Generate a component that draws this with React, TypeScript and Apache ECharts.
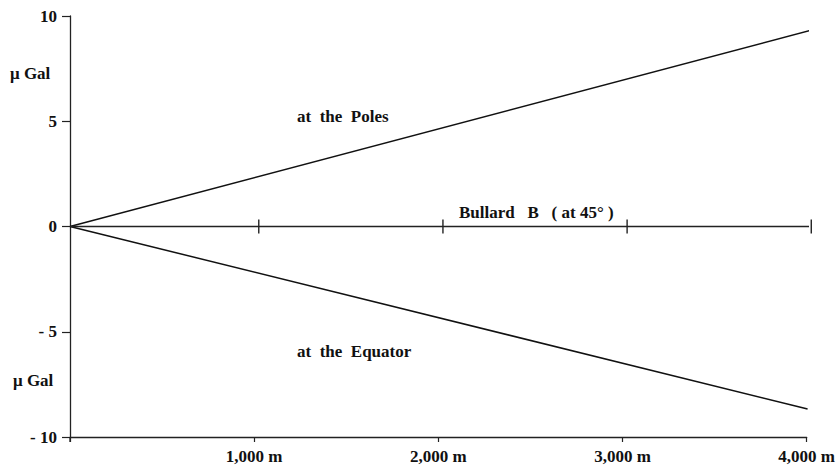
import React, { useEffect, useRef } from "react";
import * as echarts from "echarts";

const xTicks = [0, 1000, 2000, 3000, 4000];
const yTicks = [-10, -5, 0, 5, 10];
const polesLine: [number, number][] = [[0, 0], [4049, 9.38]];
const equatorLine: [number, number][] = [[0, 0], [4005, -8.67]];
const bullardX = [0, 1025, 2025, 3025, 4025];
const bullardY = [0, 0, 0, 0, 0];
const unitLabel = "μ Gal";

const FONT = '"Liberation Serif", "Times New Roman", serif';

export default function App() {
  const ref = useRef<HTMLDivElement>(null);
  useEffect(() => {
    document.body.style.margin = "0";
    if (!ref.current) return;
    const chart = echarts.init(ref.current, null, { renderer: "svg" });
    const bullardData = bullardX.map((x, i) => ({
      value: [x, bullardY[i]],
      symbol: i === 0 ? "none" : "rect",
    }));
    chart.setOption({
      animation: false,
      backgroundColor: "#fff",
      grid: { left: 70, right: 29, top: 16, bottom: 28 },
      xAxis: {
        type: "value",
        min: xTicks[0],
        max: xTicks[xTicks.length - 1],
        interval: 1000,
        axisLine: { onZero: false, lineStyle: { color: "#222", width: 1.3 } },
        axisTick: { show: true, length: 5, lineStyle: { color: "#222", width: 1.2 } },
        splitLine: { show: false },
        axisLabel: {
          margin: 11,
          color: "#111",
          fontFamily: FONT,
          fontWeight: "bold",
          fontSize: 17,
          formatter: (v: number) => (v === 0 ? "" : v.toLocaleString("en-US") + " m"),
        },
      },
      yAxis: {
        type: "value",
        min: yTicks[0],
        max: yTicks[yTicks.length - 1],
        interval: 5,
        axisLine: { show: true, onZero: false, lineStyle: { color: "#222", width: 1.3 } },
        axisTick: { show: true, length: 8, lineStyle: { color: "#222", width: 1.2 } },
        splitLine: { show: false },
        axisLabel: {
          margin: 13,
          color: "#111",
          fontFamily: FONT,
          fontWeight: "bold",
          fontSize: 17,
          formatter: (v: number) => (v < 0 ? "- " + Math.abs(v) : String(v)),
        },
      },
      series: [
        {
          type: "line",
          name: "at the Poles",
          data: polesLine,
          symbol: "none",
          clip: false,
          lineStyle: { color: "#111", width: 1.5 },
        },
        {
          type: "line",
          name: "at the Equator",
          data: equatorLine,
          symbol: "none",
          clip: false,
          lineStyle: { color: "#111", width: 1.5 },
        },
        {
          type: "line",
          name: "Bullard B",
          data: bullardData,
          symbolSize: [1.4, 14],
          showSymbol: true,
          clip: false,
          itemStyle: { color: "#222" },
          lineStyle: { color: "#222", width: 1.5 },
        },
      ],
      graphic: [
        {
          type: "text",
          style: { text: "at  the  Poles", x: 297, y: 116, verticalAlign: "middle", font: `bold 17px ${FONT}`, fill: "#111" },
        },
        {
          type: "text",
          style: { text: "at  the  Equator", x: 297, y: 351, verticalAlign: "middle", font: `bold 17px ${FONT}`, fill: "#111" },
        },
        {
          type: "text",
          style: { text: "Bullard   B   ( at 45° )", x: 459, y: 212, verticalAlign: "middle", font: `bold 17px ${FONT}`, fill: "#111" },
        },
        {
          type: "text",
          style: { text: unitLabel, x: 10, y: 73, verticalAlign: "middle", font: `bold 17px ${FONT}`, fill: "#111" },
        },
        {
          type: "text",
          style: { text: unitLabel, x: 13, y: 380, verticalAlign: "middle", font: `bold 17px ${FONT}`, fill: "#111" },
        },
        {
          type: "line",
          shape: { x1: 70, y1: 437, x2: 70, y2: 442 },
          style: { stroke: "#222", lineWidth: 1.3 },
        },
      ],
    });
    return () => chart.dispose();
  }, []);
  return <div ref={ref} style={{ width: 838, height: 465 }} />;
}
